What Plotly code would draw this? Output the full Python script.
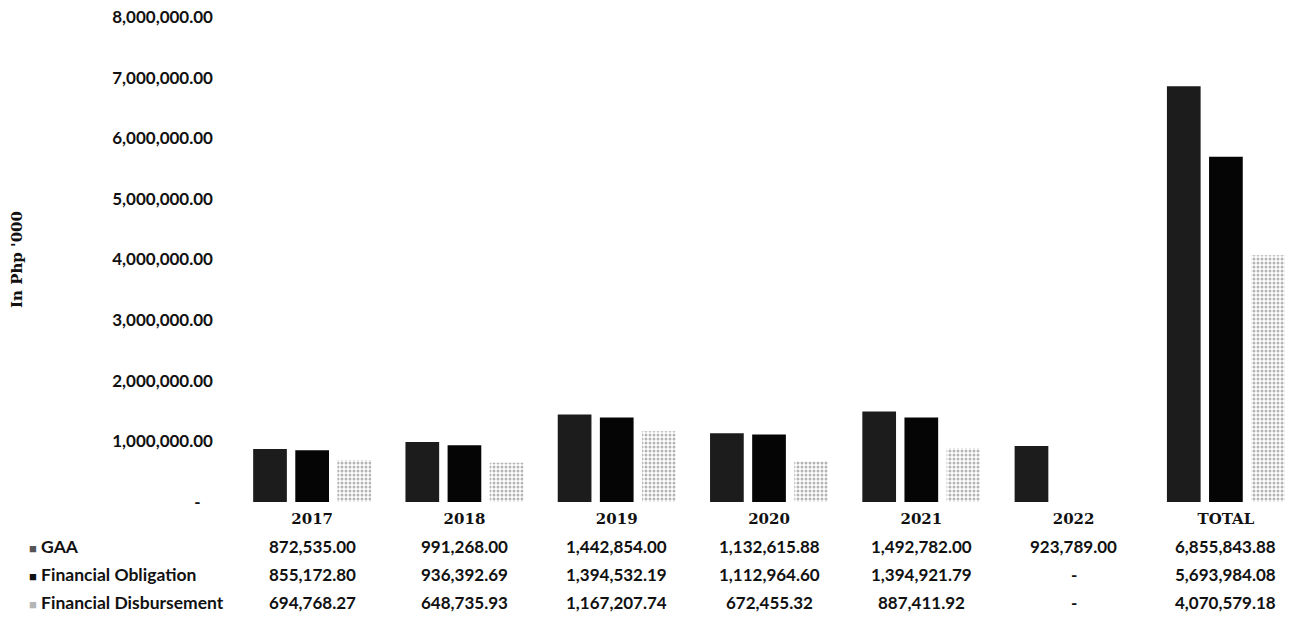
import plotly.graph_objects as go

# ---- data ----
categories = ["2017", "2018", "2019", "2020", "2021", "2022", "TOTAL"]
gaa = [872535.00, 991268.00, 1442854.00, 1132615.88, 1492782.00, 923789.00, 6855843.88]
obligation = [855172.80, 936392.69, 1394532.19, 1112964.60, 1394921.79, None, 5693984.08]
disbursement = [694768.27, 648735.93, 1167207.74, 672455.32, 887411.92, None, 4070579.18]
series_names = ["GAA", "Financial Obligation", "Financial Disbursement"]
y_ticks = [0, 1000000, 2000000, 3000000, 4000000, 5000000, 6000000, 7000000, 8000000]

def fmt(v):
    return "-" if v is None else f"{v:,.2f}"

W, H = 1292, 621
ML, MR, MT, MB = 236, 0, 17, 119
plot_w = W - ML - MR
plot_h = H - MT - MB

def px_x(p):
    return (p - ML) / plot_w

def px_y(p):
    return (H - MB - p) / plot_h

NUM_FONT = "Lato"
SERIF = "DejaVu Serif"

fig = go.Figure()
fig.add_trace(go.Bar(x=categories, y=gaa, name=series_names[0],
                     marker=dict(color="#1c1c1c", line=dict(width=0))))
fig.add_trace(go.Bar(x=categories, y=obligation, name=series_names[1],
                     marker=dict(color="#050505", line=dict(width=0))))
fig.add_trace(go.Bar(x=categories, y=disbursement, name=series_names[2],
                     marker=dict(color="#ffffff", line=dict(width=0),
                                 pattern=dict(shape=".", fgcolor="#6a6a6a",
                                              bgcolor="#ffffff", size=4,
                                              solidity=0.45))))

# data table under the chart (columns placed on the category axis by index)
row_y = [546, 574, 602]
rows = [gaa, obligation, disbursement]
key_colors = ["#555555", "#111111", "#b5b5b5"]
for r, (vals, name, kc) in enumerate(zip(rows, series_names, key_colors)):
    for i, v in enumerate(vals):
        fig.add_annotation(x=i, xref="x", y=px_y(row_y[r]), yref="paper",
                           text=fmt(v), showarrow=False, xanchor="center",
                           yanchor="middle",
                           font=dict(family=NUM_FONT, size=17, color="#111111",
                                     weight="bold"))
    fig.add_annotation(x=px_x(27), xref="paper", y=px_y(row_y[r]), yref="paper",
                       text=f"<span style='color:{kc};font-size:13px'>■</span> {name}",
                       showarrow=False, xanchor="left", yanchor="middle",
                       font=dict(family=NUM_FONT, size=17.5, color="#111111",
                                 weight="bold"))

tick_text = ["-\u00a0\u00a0\u00a0" if v == 0 else f"{v:,.2f}" for v in y_ticks]

fig.update_layout(
    width=W, height=H,
    margin=dict(l=ML, r=MR, t=MT, b=MB, autoexpand=False),
    paper_bgcolor="white", plot_bgcolor="white",
    barmode="group", bargap=0.17, bargroupgap=0.2,
    showlegend=False,
    xaxis=dict(type="category", range=[-0.5, 6.434], showgrid=False,
               showline=False, zeroline=False, ticks="",
               ticklabelstandoff=6,
               tickfont=dict(family=SERIF, size=15, color="#111111",
                             weight="bold")),
    yaxis=dict(range=[0, 8000000], tickvals=y_ticks, ticktext=tick_text,
               showgrid=False, showline=False, zeroline=False, ticks="",
               ticklabelstandoff=22,
               tickfont=dict(family=NUM_FONT, size=17, color="#111111",
                             weight="bold"),
               title=dict(text="In Php '000", standoff=86,
                          font=dict(family=SERIF, size=15, color="#111111",
                                    weight="bold"))),
)

fig.write_html("out.html")
